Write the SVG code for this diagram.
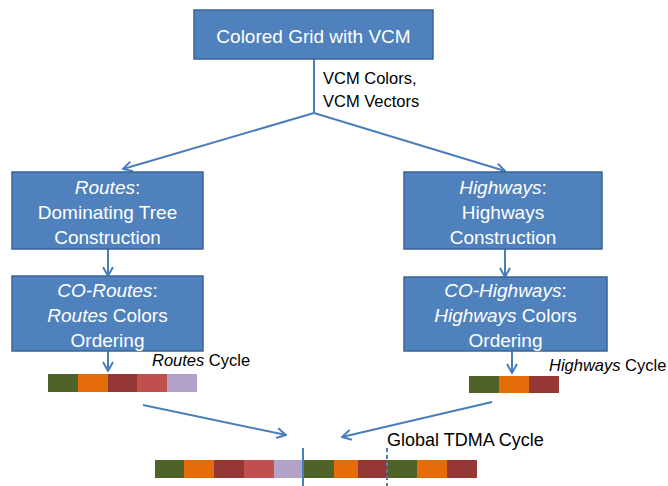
<svg xmlns="http://www.w3.org/2000/svg" width="668" height="486" viewBox="0 0 668 486">
<style>
.box{fill:#4F81BD;stroke:#3A6496;stroke-width:1.5}
.bt{font-family:"Liberation Sans",Arial,sans-serif;font-size:19px;fill:#fff;text-anchor:middle}
.lt{font-family:"Liberation Sans",Arial,sans-serif;font-size:16.5px;fill:#000}
.c{stroke:#4A7EBB;stroke-width:2;fill:none}
.g{fill:#4F6228}.o{fill:#E46C0A}.d{fill:#953735}.r{fill:#C0504D}.l{fill:#B3A2C7}
</style>
<defs>
<marker id="ah" viewBox="0 0 12 12" refX="11" refY="6" markerWidth="12" markerHeight="12" markerUnits="userSpaceOnUse" orient="auto">
<polyline points="2,1 11,6 2,11" fill="none" stroke="#4A7EBB" stroke-width="2"/>
</marker>
</defs>
<g id="connectors">
<line class="c" x1="314" y1="59" x2="314" y2="113"/>
<line class="c" x1="314" y1="113" x2="123" y2="169" marker-end="url(#ah)"/>
<line class="c" x1="314" y1="113" x2="505" y2="171" marker-end="url(#ah)"/>
<line class="c" x1="108" y1="249" x2="108" y2="276" marker-end="url(#ah)"/>
<line class="c" x1="505" y1="249" x2="505" y2="277" marker-end="url(#ah)"/>
<line class="c" x1="108" y1="351" x2="108" y2="371" marker-end="url(#ah)"/>
<line class="c" x1="512" y1="351" x2="512" y2="373" marker-end="url(#ah)"/>
<line class="c" x1="143" y1="405" x2="286" y2="435" marker-end="url(#ah)"/>
<line class="c" x1="492" y1="402" x2="342" y2="437" marker-end="url(#ah)"/>
</g>
<g id="top">
<rect class="box" x="194" y="10" width="239" height="49"/>
<text class="bt" x="313.5" y="43">Colored Grid with VCM</text>
</g>
<g id="vcm-label">
<text class="lt" x="323" y="84">VCM Colors,</text>
<text class="lt" x="323" y="107">VCM Vectors</text>
</g>
<g id="routes">
<rect class="box" x="12" y="172" width="191" height="77"/>
<text class="bt" x="107.5" y="194"><tspan font-style="italic">Routes</tspan>:</text>
<text class="bt" x="107.5" y="219">Dominating Tree</text>
<text class="bt" x="107.5" y="244">Construction</text>
</g>
<g id="co-routes">
<rect class="box" x="12" y="276" width="191" height="75"/>
<text class="bt" x="107.5" y="297"><tspan font-style="italic">CO-Routes</tspan>:</text>
<text class="bt" x="107.5" y="322"><tspan font-style="italic">Routes</tspan> Colors</text>
<text class="bt" x="107.5" y="347">Ordering</text>
</g>
<g id="highways">
<rect class="box" x="404" y="172" width="198" height="77"/>
<text class="bt" x="503" y="194"><tspan font-style="italic">Highways</tspan>:</text>
<text class="bt" x="503" y="219">Highways</text>
<text class="bt" x="503" y="244">Construction</text>
</g>
<g id="co-highways">
<rect class="box" x="404" y="277" width="203" height="74"/>
<text class="bt" x="505.5" y="297"><tspan font-style="italic">CO-Highways</tspan>:</text>
<text class="bt" x="505.5" y="322"><tspan font-style="italic">Highways</tspan> Colors</text>
<text class="bt" x="505.5" y="347">Ordering</text>
</g>
<g id="routes-cycle">
<text class="lt" x="152" y="366"><tspan font-style="italic">Routes</tspan> Cycle</text>
<rect class="g" x="48" y="374" width="30" height="18"/>
<rect class="o" x="78" y="374" width="30" height="18"/>
<rect class="d" x="108" y="374" width="29" height="18"/>
<rect class="r" x="137" y="374" width="30" height="18"/>
<rect class="l" x="167" y="374" width="30" height="18"/>
</g>
<g id="highways-cycle">
<text class="lt" x="549" y="371"><tspan font-style="italic">Highways</tspan> Cycle</text>
<rect class="g" x="469" y="376" width="30" height="17"/>
<rect class="o" x="499" y="376" width="30" height="17"/>
<rect class="d" x="529" y="376" width="30" height="17"/>
</g>
<g id="global-cycle">
<text class="lt" x="387" y="446" style="font-size:18px">Global TDMA Cycle</text>
<rect class="g" x="155" y="460" width="29" height="18"/>
<rect class="o" x="184" y="460" width="30" height="18"/>
<rect class="d" x="214" y="460" width="30" height="18"/>
<rect class="r" x="244" y="460" width="30" height="18"/>
<rect class="l" x="274" y="460" width="29" height="18"/>
<rect class="g" x="303" y="460" width="31" height="18"/>
<rect class="o" x="334" y="460" width="24" height="18"/>
<rect class="d" x="358" y="460" width="29" height="18"/>
<rect class="g" x="387" y="460" width="30" height="18"/>
<rect class="o" x="417" y="460" width="30" height="18"/>
<rect class="d" x="447" y="460" width="30" height="18"/>
<line x1="303" y1="448" x2="303" y2="486" stroke="#4A7EBB" stroke-width="2"/>
<line x1="387" y1="448" x2="387" y2="486" stroke="#4A7EBB" stroke-width="2" stroke-dasharray="4,3"/>
</g>
</svg>
